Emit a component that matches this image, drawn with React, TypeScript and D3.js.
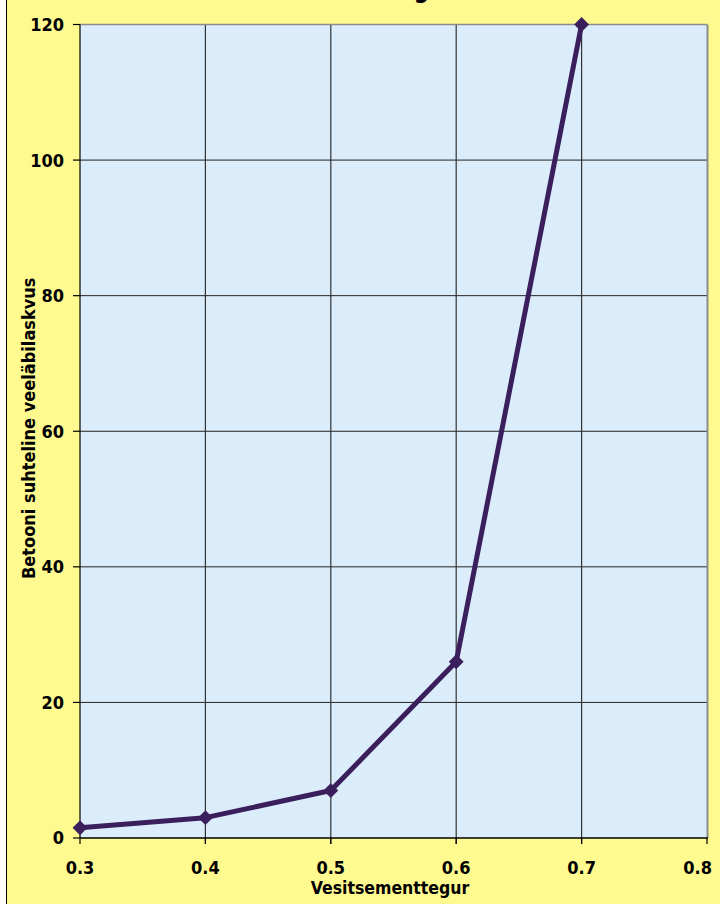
import React from "react";
import * as d3 from "d3";

const xValues = [0.3, 0.4, 0.5, 0.6, 0.7];
const yValues = [1.5, 3, 7, 26, 120];
const xTicks = [0.3, 0.4, 0.5, 0.6, 0.7, 0.8];
const yTicks = [0, 20, 40, 60, 80, 100, 120];
const xTickLabels = ["0.3", "0.4", "0.5", "0.6", "0.7", "0.8"];
const yTickLabels = ["0", "20", "40", "60", "80", "100", "120"];
const titleText = "Veeläbilaskvuse graafik";
const xTitle = "Vesitsementtegur";
const yTitle = "Betooni suhteline veeläbilaskvus";

const W = 720;
const H = 904;
const FONT = "'DejaVu Sans Condensed', 'DejaVu Sans', sans-serif";

export default function App() {
  const x = d3.scaleLinear().domain([0.3, 0.8]).range([80, 707]);
  const y = d3.scaleLinear().domain([0, 120]).range([838, 24.5]);
  const line = d3
    .line<number>()
    .x((_, i) => x(xValues[i]))
    .y((d) => y(d));
  const marker = d3.symbol().type(d3.symbolSquare).size(110)();
  const [x0, x1] = x.range();
  const [y0, y1] = y.range();

  return (
    <svg
      width={W}
      height={H}
      style={{ position: "absolute", left: 0, top: 0 }}
      fontFamily={FONT}
    >
      <rect x={0} y={0} width={W} height={H} fill="#ffffff" />
      <rect x={6.5} y={-2} width={W} height={H + 4} fill="#FFFA90" stroke="#000" strokeWidth={1} />
      <text x={355} y={-2.5} textAnchor="middle" fontSize={24} fontWeight="bold" fill="#000">
        {titleText}
      </text>
      {/* plot area */}
      <rect x={x0} y={y1} width={x1 - x0} height={y0 - y1} fill="#DBEDFB" />
      {/* horizontal gridlines */}
      {yTicks.slice(1, -1).map((t) => (
        <line key={"hg" + t} x1={x0} x2={x1} y1={y(t)} y2={y(t)} stroke="#222" strokeWidth={1} />
      ))}
      {/* vertical gridlines */}
      {xTicks.slice(1, -1).map((t) => (
        <line key={"vg" + t} x1={x(t)} x2={x(t)} y1={y1} y2={y0 + 6} stroke="#333" strokeWidth={1.2} />
      ))}
      {/* plot border top/right */}
      <line x1={x0} x2={x1} y1={y1} y2={y1} stroke="#8c8c8c" strokeWidth={1.5} />
      <line x1={x1 + 0.5} x2={x1 + 0.5} y1={y1} y2={y0} stroke="#8c8c8c" strokeWidth={2} />
      {/* axes */}
      <line x1={x0} x2={x0} y1={y1} y2={y0} stroke="#000" strokeWidth={1.2} />
      <line x1={x0} x2={x1 + 1} y1={y0} y2={y0} stroke="#000" strokeWidth={1.5} />
      {yTicks.map((t) => (
        <line key={"yt" + t} x1={x0 - 7} x2={x0} y1={y(t)} y2={y(t)} stroke="#000" strokeWidth={1.2} />
      ))}
      {xTicks.map((t) => (
        <line key={"xt" + t} x1={x(t)} x2={x(t)} y1={y0} y2={y0 + 6} stroke="#000" strokeWidth={1.2} />
      ))}
      {yTicks.map((t, i) => (
        <text
          key={"yl" + t}
          x={64}
          y={y(t)}
          dy="0.36em"
          textAnchor="end"
          fontSize={18}
          fontWeight="bold"
          fill="#000"
        >
          {yTickLabels[i]}
        </text>
      ))}
      {xTicks.map((t, i) => {
        const last = i === xTicks.length - 1;
        return (
          <text
            key={"xl" + t}
            x={last ? 712 : x(t)}
            y={874}
            textAnchor={last ? "end" : "middle"}
            fontSize={18}
            fontWeight="bold"
            fill="#000"
          >
            {xTickLabels[i]}
          </text>
        );
      })}
      <text x={390} y={894} textAnchor="middle" fontSize={17.5} fontWeight="bold" fill="#000">
        {xTitle}
      </text>
      <text
        transform={`translate(35,${(y0 + y1) / 2 - 3}) rotate(-90)`}
        textAnchor="middle"
        fontSize={18}
        fontWeight="bold"
        fill="#000"
      >
        {yTitle}
      </text>
      {/* series */}
      <path d={line(yValues) || ""} fill="none" stroke="#3A1F5C" strokeWidth={5} strokeLinejoin="round" />
      {yValues.map((v, i) => (
        <path
          key={"m" + i}
          d={marker || ""}
          transform={`translate(${x(xValues[i])},${y(v)}) rotate(45)`}
          fill="#3A1F5C"
        />
      ))}
    </svg>
  );
}
